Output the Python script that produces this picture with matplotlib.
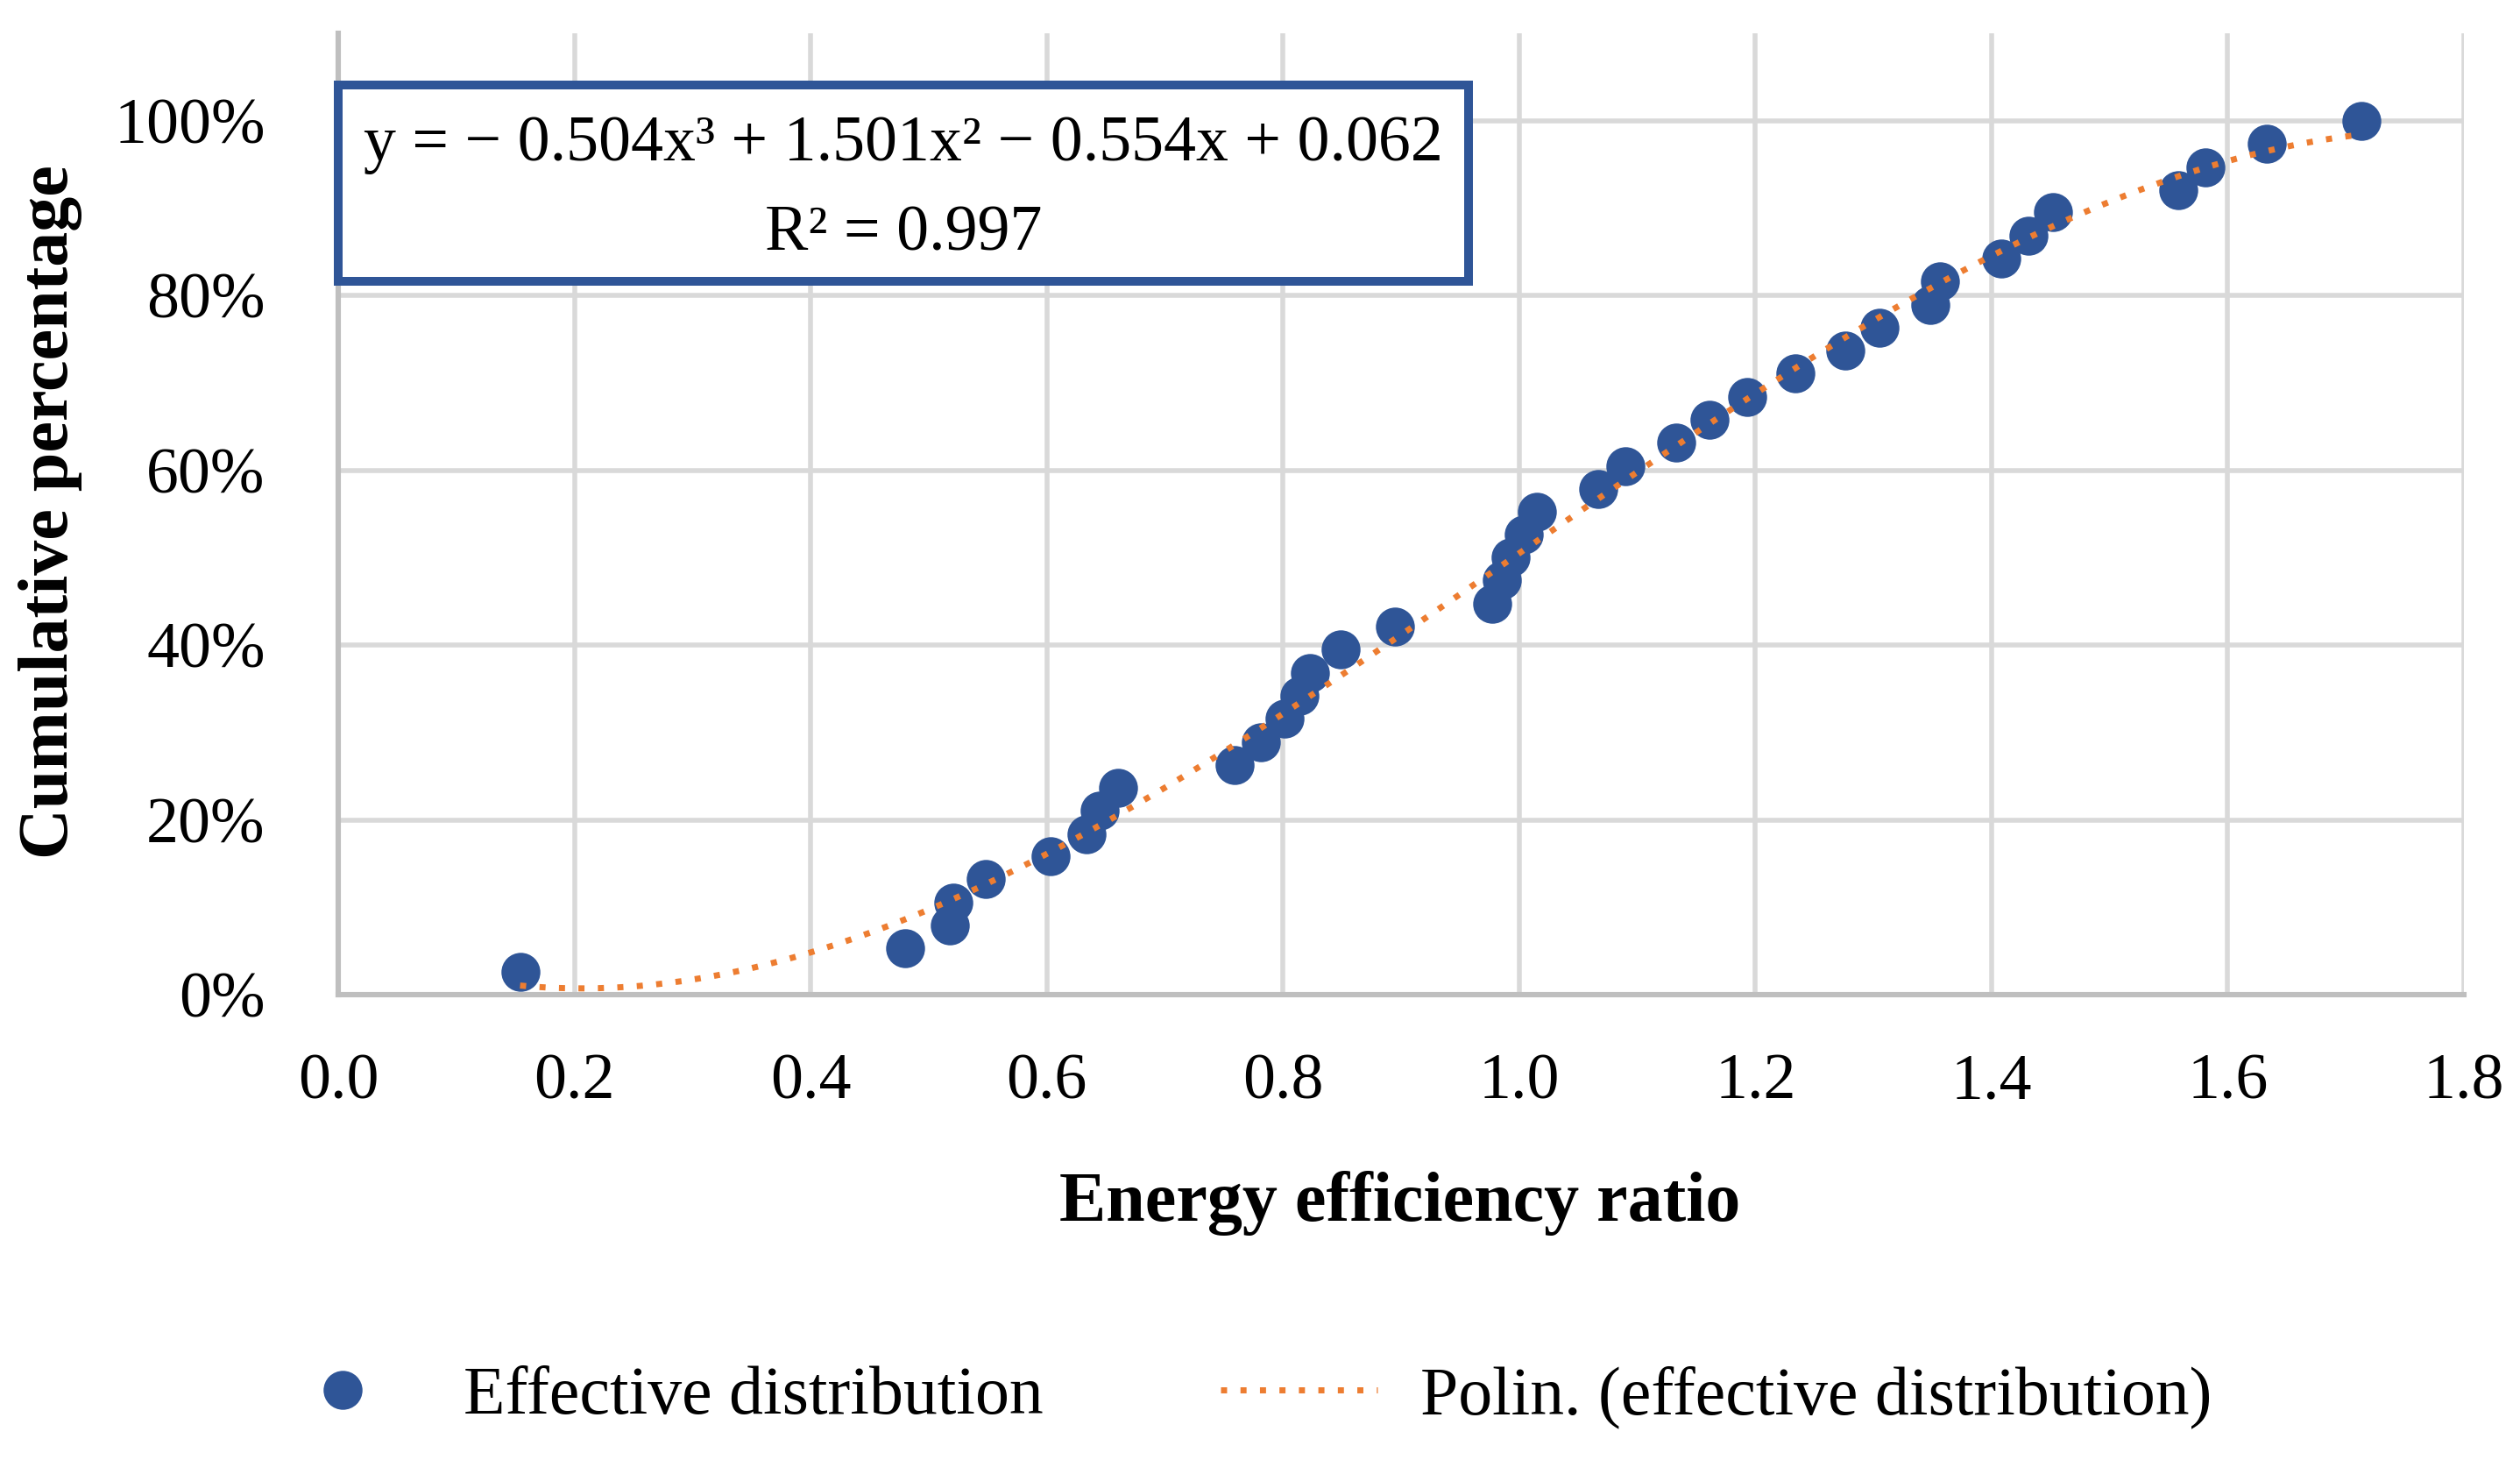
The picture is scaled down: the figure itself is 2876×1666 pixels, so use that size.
import numpy as np
import matplotlib
matplotlib.use("Agg")
import matplotlib.pyplot as plt
from matplotlib.patches import Rectangle
from matplotlib.ticker import FuncFormatter

plt.rcParams['font.family'] = ['Liberation Serif', 'DejaVu Serif']

# ---- data ----
energy_ratio = [0.154, 0.480, 0.518, 0.521, 0.548, 0.603, 0.634, 0.645, 0.660,
                0.759, 0.781, 0.801, 0.814, 0.823, 0.849, 0.895, 0.977, 0.985,
                0.993, 1.004, 1.015, 1.067, 1.090, 1.133, 1.161, 1.193, 1.234,
                1.276, 1.305, 1.348, 1.356, 1.408, 1.431, 1.452, 1.558, 1.581,
                1.633, 1.713]
cumulative = [0.026, 0.053, 0.079, 0.105, 0.132, 0.158, 0.184, 0.211, 0.237,
              0.263, 0.289, 0.316, 0.342, 0.368, 0.395, 0.421, 0.447, 0.474,
              0.500, 0.526, 0.553, 0.579, 0.605, 0.632, 0.658, 0.684, 0.711,
              0.737, 0.763, 0.789, 0.816, 0.842, 0.868, 0.895, 0.921, 0.947,
              0.974, 1.000]
# trendline coefficients as printed on the chart (highest power first)
trend_coeffs = [-0.504, 1.501, -0.554, 0.062]
equation_text = "y = − 0.504x³ + 1.501x² − 0.554x + 0.062"
r2_text = "R² = 0.997"
x_ticks = [0.0, 0.2, 0.4, 0.6, 0.8, 1.0, 1.2, 1.4, 1.6, 1.8]
y_ticks = [0.0, 0.2, 0.4, 0.6, 0.8, 1.0]
series_label = "Effective distribution"
trend_label = "Polin. (effective distribution)"
x_title = "Energy efficiency ratio"
y_title = "Cumulative percentage"

BLUE = '#2F5597'
ORANGE = '#ED7D31'
GRID = '#D9D9D9'
SPINE = '#BFBFBF'
FS = 26.6
FS_TITLE = 28.8
FS_LEG = 28.0

W, H = 2876, 1666
DPI = 200
fig = plt.figure(figsize=(W / DPI, H / DPI), dpi=DPI)
fig.patch.set_facecolor('white')

def fx(px):
    return px / W

def fy(py):
    return 1 - py / H

left, right, top, bottom = 386, 2812, 38, 1135
ax = fig.add_axes([fx(left), fy(bottom), fx(right) - fx(left), fy(top) - fy(bottom)])

ax.set_xlim(0, 1.8)
ax.set_ylim(0, 1.1)
ax.set_xticks(x_ticks)
ax.set_yticks(y_ticks)
ax.xaxis.set_major_formatter(FuncFormatter(lambda v, p: f"{v:.1f}"))
ax.yaxis.set_major_formatter(FuncFormatter(lambda v, p: f"{v*100:.0f}%"))
ax.tick_params(axis='both', length=0, labelsize=FS, colors='black')
ax.tick_params(axis='x', pad=24)
ax.tick_params(axis='y', pad=30)

ax.set_axisbelow(True)
ax.grid(True, color=GRID, linewidth=2.0)
for s in ['top', 'right']:
    ax.spines[s].set_visible(False)
for s in ['left', 'bottom']:
    ax.spines[s].set_color(SPINE)
    ax.spines[s].set_linewidth(2.2)

ax.plot(energy_ratio, cumulative, linestyle='none', marker='o', markersize=16,
        color=BLUE, markeredgewidth=0, label=series_label, zorder=3)

poly = np.poly1d(trend_coeffs)
xs = np.linspace(min(energy_ratio), max(energy_ratio), 400)
ax.plot(xs, poly(xs), color=ORANGE, linewidth=2.5, linestyle=(0, (1, 2.2)),
        dash_capstyle='butt', label=trend_label, zorder=4)

# axis titles
fig.text(fx(1598), fy(1393), x_title, ha='center', va='baseline',
         fontsize=FS_TITLE, fontweight='bold')
fig.text(fx(58), fy(584), y_title, ha='center', va='center', rotation=90,
         fontsize=FS_TITLE, fontweight='bold')

# equation box
rect = Rectangle((fx(386), fy(321)), fx(1676) - fx(386), fy(97) - fy(321),
                 transform=fig.transFigure, facecolor='white', edgecolor=BLUE,
                 linewidth=3.6, zorder=5)
fig.add_artist(rect)
fig.text(fx(1031), fy(183), equation_text, ha='center', va='baseline',
         fontsize=FS, zorder=6)
fig.text(fx(1031), fy(286), r2_text, ha='center', va='baseline',
         fontsize=FS, zorder=6)

# legend
handles, labels = ax.get_legend_handles_labels()
fig.legend(handles, labels, loc='center left', bbox_to_anchor=(fx(301), fy(1594)),
           bbox_transform=fig.transFigure, ncol=2, frameon=False, fontsize=FS_LEG,
           handlelength=2.31, handletextpad=0.62, columnspacing=2.6,
           borderpad=0, borderaxespad=0)

fig.savefig('out.png', dpi=DPI, facecolor='white')
